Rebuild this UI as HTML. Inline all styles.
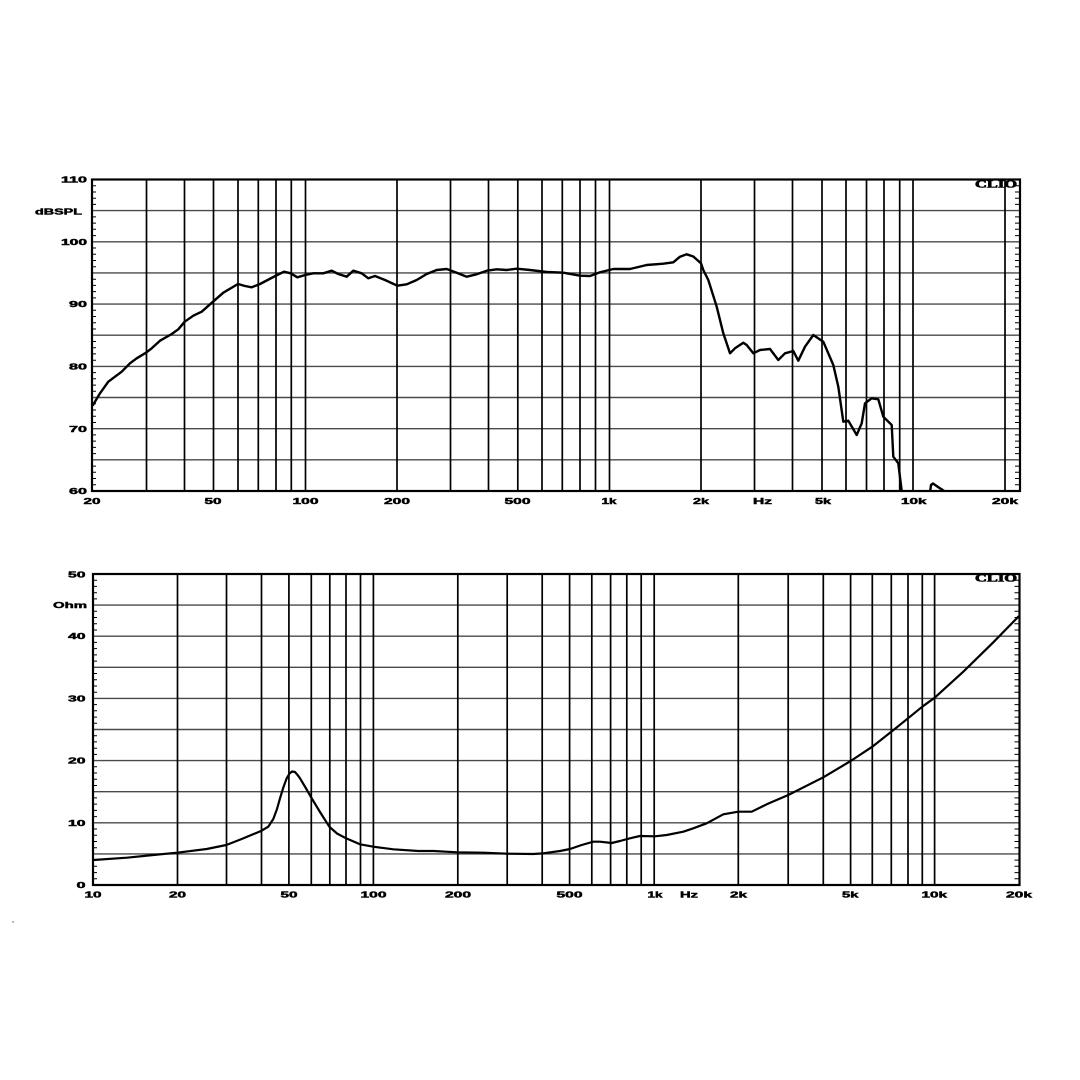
<!DOCTYPE html>
<html>
<head>
<meta charset="utf-8">
<style>
html,body{margin:0;padding:0;background:#fff;}
svg{display:block;}
.lbl{font-family:"Liberation Sans",Arial,sans-serif;font-weight:bold;font-size:8.6px;fill:#000;stroke:#000;stroke-width:0.45px;}
.clio{font-family:"Liberation Serif",serif;font-weight:bold;font-size:10px;fill:#000;stroke:#000;stroke-width:0.6px;}
</style>
</head>
<body>
<svg width="1080" height="1080" viewBox="0 0 1080 1080" xmlns="http://www.w3.org/2000/svg">
<defs>
<clipPath id="c1"><rect x="92" y="179.5" width="928" height="311.5"/></clipPath>
<clipPath id="c2"><rect x="93" y="574" width="926.5" height="311"/></clipPath>
</defs>
<rect width="1080" height="1080" fill="#fff"/>

<!-- ========== TOP CHART ========== -->
<g stroke="#4a4a4a" stroke-width="1.4">
<line x1="92" y1="210.6" x2="1020" y2="210.6"/>
<line x1="92" y1="241.8" x2="1020" y2="241.8"/>
<line x1="92" y1="272.9" x2="1020" y2="272.9"/>
<line x1="92" y1="304.1" x2="1020" y2="304.1"/>
<line x1="92" y1="335.2" x2="1020" y2="335.2"/>
<line x1="92" y1="366.4" x2="1020" y2="366.4"/>
<line x1="92" y1="397.5" x2="1020" y2="397.5"/>
<line x1="92" y1="428.7" x2="1020" y2="428.7"/>
<line x1="92" y1="459.8" x2="1020" y2="459.8"/>
</g>
<g stroke="#000" stroke-width="1.7">
<line x1="146.5" y1="179.5" x2="146.5" y2="491"/>
<line x1="184.5" y1="179.5" x2="184.5" y2="491"/>
<line x1="213.5" y1="179.5" x2="213.5" y2="491"/>
<line x1="238" y1="179.5" x2="238" y2="491"/>
<line x1="258.3" y1="179.5" x2="258.3" y2="491"/>
<line x1="276" y1="179.5" x2="276" y2="491"/>
<line x1="291.3" y1="179.5" x2="291.3" y2="491"/>
<line x1="305.5" y1="179.5" x2="305.5" y2="491"/>
<line x1="397" y1="179.5" x2="397" y2="491"/>
<line x1="450.5" y1="179.5" x2="450.5" y2="491"/>
<line x1="488.5" y1="179.5" x2="488.5" y2="491"/>
<line x1="517.8" y1="179.5" x2="517.8" y2="491"/>
<line x1="542" y1="179.5" x2="542" y2="491"/>
<line x1="562.3" y1="179.5" x2="562.3" y2="491"/>
<line x1="580" y1="179.5" x2="580" y2="491"/>
<line x1="595.5" y1="179.5" x2="595.5" y2="491"/>
<line x1="609.5" y1="179.5" x2="609.5" y2="491"/>
<line x1="701" y1="179.5" x2="701" y2="491"/>
<line x1="754.5" y1="179.5" x2="754.5" y2="491"/>
<line x1="792.5" y1="179.5" x2="792.5" y2="491"/>
<line x1="822" y1="179.5" x2="822" y2="491"/>
<line x1="846" y1="179.5" x2="846" y2="491"/>
<line x1="866.5" y1="179.5" x2="866.5" y2="491"/>
<line x1="884" y1="179.5" x2="884" y2="491"/>
<line x1="899.7" y1="179.5" x2="899.7" y2="491"/>
<line x1="913" y1="179.5" x2="913" y2="491"/>
<line x1="1005" y1="179.5" x2="1005" y2="491"/>
</g>
<!-- ticks top -->
<g stroke="#000" stroke-width="1">
<path d="M92 185.7h4M92 192h4M92 198.2h4M92 204.4h4M92 216.9h4M92 223.1h4M92 229.3h4M92 235.6h4M92 248h4M92 254.2h4M92 260.5h4M92 266.7h4M92 279.2h4M92 285.4h4M92 291.6h4M92 297.9h4M92 310.3h4M92 316.5h4M92 322.8h4M92 329h4M92 341.5h4M92 347.7h4M92 353.9h4M92 360.2h4M92 372.6h4M92 378.8h4M92 385.1h4M92 391.3h4M92 403.8h4M92 410h4M92 416.2h4M92 422.5h4M92 434.9h4M92 441.1h4M92 447.4h4M92 453.6h4M92 466.1h4M92 472.3h4M92 478.5h4M92 484.8h4"/>
<path d="M1015 185.7h5M1015 192h5M1015 198.2h5M1015 204.4h5M1015 216.9h5M1015 223.1h5M1015 229.3h5M1015 235.6h5M1015 248h5M1015 254.2h5M1015 260.5h5M1015 266.7h5M1015 279.2h5M1015 285.4h5M1015 291.6h5M1015 297.9h5M1015 310.3h5M1015 316.5h5M1015 322.8h5M1015 329h5M1015 341.5h5M1015 347.7h5M1015 353.9h5M1015 360.2h5M1015 372.6h5M1015 378.8h5M1015 385.1h5M1015 391.3h5M1015 403.8h5M1015 410h5M1015 416.2h5M1015 422.5h5M1015 434.9h5M1015 441.1h5M1015 447.4h5M1015 453.6h5M1015 466.1h5M1015 472.3h5M1015 478.5h5M1015 484.8h5"/>
</g>
<rect x="92" y="179.5" width="928" height="311.5" fill="none" stroke="#000" stroke-width="2.2"/>

<!-- SPL curve -->
<g clip-path="url(#c1)">
<polyline fill="none" stroke="#000" stroke-width="2.4" stroke-linejoin="round" stroke-linecap="round" points="
93,405 100,393.3 108.3,381.7 115,376.7 121.7,371.7 130,363.3 136.7,358.3 146,352.7 151.7,348.3 160,340.7 171.7,334 178.3,329.3 184.7,321.7 193.3,315.7 201.7,311.7 213,301.7 223.3,292.7 238,284 245,286 251.7,287.3 260,284 275.3,276 284,271.7 290.7,273.3 297.3,277.3 305.3,275 313.3,273.3 323.3,273.3 331.7,270.7 338.3,274 346.7,276.7 353.3,270.7 361.7,273.3 368.3,278.3 375,276 385,280 397.3,285.7 406.7,284.3 416.7,280 426.7,274 436.7,270 446.7,269 456.7,272.7 466.7,276.7 476.7,274.3 486.7,270.7 496.7,269.3 506.7,270 516.7,268.7 530,270 546.7,272 563.3,272.7 580,275.7 590,276 600,272.3 613.3,269 630,269 646.7,265 663.3,263.7 673.3,262.3 680,256.7 686.7,254.3 693.3,256.5 701,263.3 703.3,270 708.3,280 716.7,306.7 723.3,333.3 730,353.3 735,348.3 743.3,342.7 746.7,345 753.3,353.3 760,350 770,349 778.3,360 785,353.3 793.3,351 798.3,360.7 805,346.7 813.3,335 823.3,341.7 833.3,365 838.3,386.7 843.3,421.7 848.3,420.7 856.7,435 861.7,423.3 865,403.3 871.7,398.3 878.3,399.3 883.3,416.7 891.7,425 893.3,456.7 898.3,463.3 901.7,491 902.5,495"/>
<polyline fill="none" stroke="#000" stroke-width="2.4" stroke-linejoin="round" points="930,493 931,485 933,483.5 938,487 943.5,490.5 946,493"/>
</g>

<!-- top labels -->
<g class="lbl">
<text x="87" y="182.5" text-anchor="end" textLength="26" lengthAdjust="spacingAndGlyphs">110</text>
<text x="82" y="214.5" text-anchor="end" textLength="47" lengthAdjust="spacingAndGlyphs">dBSPL</text>
<text x="87" y="245" text-anchor="end" textLength="26" lengthAdjust="spacingAndGlyphs">100</text>
<text x="87" y="307.2" text-anchor="end" textLength="18" lengthAdjust="spacingAndGlyphs">90</text>
<text x="87" y="369.5" text-anchor="end" textLength="18" lengthAdjust="spacingAndGlyphs">80</text>
<text x="87" y="431.8" text-anchor="end" textLength="18" lengthAdjust="spacingAndGlyphs">70</text>
<text x="87" y="494" text-anchor="end" textLength="18" lengthAdjust="spacingAndGlyphs">60</text>

<text x="83.5" y="504" textLength="17" lengthAdjust="spacingAndGlyphs">20</text>
<text x="204.5" y="504" textLength="17" lengthAdjust="spacingAndGlyphs">50</text>
<text x="292.5" y="504" textLength="26" lengthAdjust="spacingAndGlyphs">100</text>
<text x="384" y="504" textLength="26" lengthAdjust="spacingAndGlyphs">200</text>
<text x="504.5" y="504" textLength="26" lengthAdjust="spacingAndGlyphs">500</text>
<text x="601.5" y="504" textLength="15" lengthAdjust="spacingAndGlyphs">1k</text>
<text x="693" y="504" textLength="16" lengthAdjust="spacingAndGlyphs">2k</text>
<text x="753" y="504" textLength="19" lengthAdjust="spacingAndGlyphs">Hz</text>
<text x="815" y="504" textLength="16" lengthAdjust="spacingAndGlyphs">5k</text>
<text x="901" y="504" textLength="25.5" lengthAdjust="spacingAndGlyphs">10k</text>
<text x="992" y="504" textLength="26" lengthAdjust="spacingAndGlyphs">20k</text>
</g>
<text class="clio" x="975" y="187.5" textLength="42" lengthAdjust="spacingAndGlyphs">CLIO</text>

<!-- ========== BOTTOM CHART ========== -->
<g stroke="#4a4a4a" stroke-width="1.4">
<line x1="93" y1="605.1" x2="1019.5" y2="605.1"/>
<line x1="93" y1="636.2" x2="1019.5" y2="636.2"/>
<line x1="93" y1="667.3" x2="1019.5" y2="667.3"/>
<line x1="93" y1="698.4" x2="1019.5" y2="698.4"/>
<line x1="93" y1="729.5" x2="1019.5" y2="729.5"/>
<line x1="93" y1="760.6" x2="1019.5" y2="760.6"/>
<line x1="93" y1="791.7" x2="1019.5" y2="791.7"/>
<line x1="93" y1="822.8" x2="1019.5" y2="822.8"/>
<line x1="93" y1="853.9" x2="1019.5" y2="853.9"/>
</g>
<g stroke="#000" stroke-width="1.7">
<line x1="177.5" y1="574" x2="177.5" y2="885"/>
<line x1="226.5" y1="574" x2="226.5" y2="885"/>
<line x1="261.5" y1="574" x2="261.5" y2="885"/>
<line x1="288.9" y1="574" x2="288.9" y2="885"/>
<line x1="311.3" y1="574" x2="311.3" y2="885"/>
<line x1="329.8" y1="574" x2="329.8" y2="885"/>
<line x1="346" y1="574" x2="346" y2="885"/>
<line x1="360.5" y1="574" x2="360.5" y2="885"/>
<line x1="373.4" y1="574" x2="373.4" y2="885"/>
<line x1="457.8" y1="574" x2="457.8" y2="885"/>
<line x1="507.2" y1="574" x2="507.2" y2="885"/>
<line x1="542.2" y1="574" x2="542.2" y2="885"/>
<line x1="569.6" y1="574" x2="569.6" y2="885"/>
<line x1="591.8" y1="574" x2="591.8" y2="885"/>
<line x1="610.6" y1="574" x2="610.6" y2="885"/>
<line x1="626.8" y1="574" x2="626.8" y2="885"/>
<line x1="641.2" y1="574" x2="641.2" y2="885"/>
<line x1="654.2" y1="574" x2="654.2" y2="885"/>
<line x1="738.3" y1="574" x2="738.3" y2="885"/>
<line x1="788.2" y1="574" x2="788.2" y2="885"/>
<line x1="823.3" y1="574" x2="823.3" y2="885"/>
<line x1="850.6" y1="574" x2="850.6" y2="885"/>
<line x1="872.3" y1="574" x2="872.3" y2="885"/>
<line x1="891.3" y1="574" x2="891.3" y2="885"/>
<line x1="908" y1="574" x2="908" y2="885"/>
<line x1="922.3" y1="574" x2="922.3" y2="885"/>
<line x1="934.6" y1="574" x2="934.6" y2="885"/>
</g>
<g stroke="#000" stroke-width="1">
<path d="M93 580.2h4M93 586.4h4M93 592.7h4M93 598.9h4M93 611.3h4M93 617.5h4M93 623.8h4M93 630h4M93 642.4h4M93 648.6h4M93 654.9h4M93 661.1h4M93 673.5h4M93 679.7h4M93 686h4M93 692.2h4M93 704.6h4M93 710.8h4M93 717.1h4M93 723.3h4M93 735.7h4M93 741.9h4M93 748.2h4M93 754.4h4M93 766.8h4M93 773h4M93 779.3h4M93 785.5h4M93 797.9h4M93 804.1h4M93 810.4h4M93 816.6h4M93 829h4M93 835.2h4M93 841.5h4M93 847.7h4M93 860.1h4M93 866.3h4M93 872.6h4M93 878.8h4"/>
<path d="M1014.5 580.2h5M1014.5 586.4h5M1014.5 592.7h5M1014.5 598.9h5M1014.5 611.3h5M1014.5 617.5h5M1014.5 623.8h5M1014.5 630h5M1014.5 642.4h5M1014.5 648.6h5M1014.5 654.9h5M1014.5 661.1h5M1014.5 673.5h5M1014.5 679.7h5M1014.5 686h5M1014.5 692.2h5M1014.5 704.6h5M1014.5 710.8h5M1014.5 717.1h5M1014.5 723.3h5M1014.5 735.7h5M1014.5 741.9h5M1014.5 748.2h5M1014.5 754.4h5M1014.5 766.8h5M1014.5 773h5M1014.5 779.3h5M1014.5 785.5h5M1014.5 797.9h5M1014.5 804.1h5M1014.5 810.4h5M1014.5 816.6h5M1014.5 829h5M1014.5 835.2h5M1014.5 841.5h5M1014.5 847.7h5M1014.5 860.1h5M1014.5 866.3h5M1014.5 872.6h5M1014.5 878.8h5"/>
</g>
<rect x="93" y="574" width="926.5" height="311" fill="none" stroke="#000" stroke-width="2.2"/>

<!-- impedance curve -->
<g clip-path="url(#c2)">
<polyline fill="none" stroke="#000" stroke-width="2.2" stroke-linejoin="round" stroke-linecap="round" points="
93.5,860 126.7,857.7 153.3,855 177.3,852.7 206.7,849 226.3,845 241.7,839 261,831 268.3,826.7 273.3,819 277,809 280,798.3 283.5,787 286.7,778.3 289.5,773.5 292,771.5 295,772 298,775.5 300,778.3 305.5,787.5 311.7,798.3 320,812 329.3,826.7 337,833.5 346,838.3 360,844.3 373.3,846.7 393.3,849.3 418.3,851 433.3,851 457.3,852.3 483.3,852.7 507.3,853.7 533.3,854 543.3,853.3 560,851 570,849 581.7,845 593.3,841.7 600,841.7 611.7,843 620,841 630,838.3 640,836 655,836.3 666.7,835 683.3,831.7 693.3,828.3 706.7,823.3 723.3,814.3 738.3,811.7 751.7,811.7 766.7,804.3 788.3,795 823.3,777.3 850.7,761 872.3,746.7 891.3,731.7 908,718.3 922.3,706.7 934.7,697.7 963.3,671.7 993.3,642.3 1018.3,616.7"/>
</g>

<g class="lbl">
<text x="85.5" y="577.5" text-anchor="end" textLength="17.5" lengthAdjust="spacingAndGlyphs">50</text>
<text x="87" y="608" text-anchor="end" textLength="34" lengthAdjust="spacingAndGlyphs">Ohm</text>
<text x="85.5" y="639.2" text-anchor="end" textLength="17.5" lengthAdjust="spacingAndGlyphs">40</text>
<text x="85.5" y="701.4" text-anchor="end" textLength="17.5" lengthAdjust="spacingAndGlyphs">30</text>
<text x="85.5" y="763.6" text-anchor="end" textLength="17.5" lengthAdjust="spacingAndGlyphs">20</text>
<text x="85.5" y="825.8" text-anchor="end" textLength="17.5" lengthAdjust="spacingAndGlyphs">10</text>
<text x="85.5" y="888" text-anchor="end" textLength="9" lengthAdjust="spacingAndGlyphs">0</text>

<text x="84.5" y="897.5" textLength="17" lengthAdjust="spacingAndGlyphs">10</text>
<text x="169" y="897.5" textLength="17" lengthAdjust="spacingAndGlyphs">20</text>
<text x="280.5" y="897.5" textLength="17" lengthAdjust="spacingAndGlyphs">50</text>
<text x="360.5" y="897.5" textLength="26" lengthAdjust="spacingAndGlyphs">100</text>
<text x="445" y="897.5" textLength="26" lengthAdjust="spacingAndGlyphs">200</text>
<text x="556.5" y="897.5" textLength="26" lengthAdjust="spacingAndGlyphs">500</text>
<text x="647.5" y="897.5" textLength="15" lengthAdjust="spacingAndGlyphs">1k</text>
<text x="680" y="897.5" textLength="18" lengthAdjust="spacingAndGlyphs">Hz</text>
<text x="730" y="897.5" textLength="17" lengthAdjust="spacingAndGlyphs">2k</text>
<text x="842" y="897.5" textLength="16.5" lengthAdjust="spacingAndGlyphs">5k</text>
<text x="921.5" y="897.5" textLength="25.5" lengthAdjust="spacingAndGlyphs">10k</text>
<text x="1006" y="897.5" textLength="26" lengthAdjust="spacingAndGlyphs">20k</text>
</g>
<text class="clio" x="975" y="581.5" textLength="42" lengthAdjust="spacingAndGlyphs">CLIO</text>

<rect x="12" y="921.5" width="2" height="1" fill="#777"/>
</svg>
</body>
</html>
